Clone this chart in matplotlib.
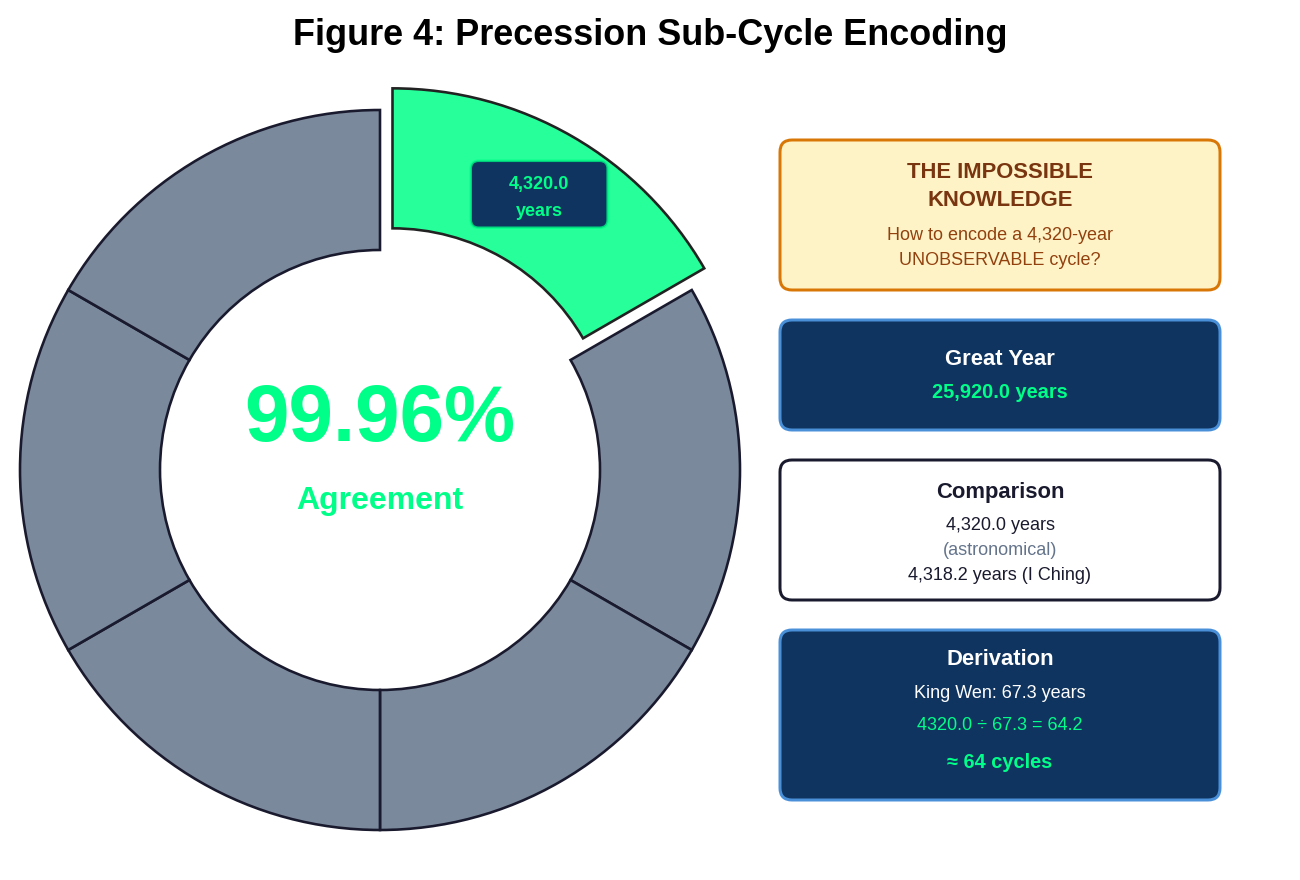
import matplotlib
matplotlib.use("Agg")
import numpy as np
import matplotlib.pyplot as plt
from matplotlib.patches import FancyBboxPatch
from matplotlib.colors import to_rgba

plt.rcParams['font.family'] = ['Liberation Sans', 'DejaVu Sans']

# ---------------- data ----------------
title = "Figure 4: Precession Sub-Cycle Encoding"
segment_years = [4320.0, 4320.0, 4320.0, 4320.0, 4320.0, 4320.0]
highlight_index = 0
great_year = 25920.0
sub_cycle = 4320.0
iching_cycle = 4318.2
king_wen = 67.3
ratio = 64.2
n_cycles = 64
agreement = 99.96

# ---------------- styling ----------------
W, H = 1300, 880
DPI = 144
GREEN = '#00FF88'
GRAY = '#64748b'
NAVY = '#0F3460'
DARK = '#1a1a2e'
BLUE_EDGE = '#4A90D9'

fig = plt.figure(figsize=(W / DPI, H / DPI), dpi=DPI)
ax = fig.add_axes([0, 0, 1, 1])


def Y(y):
    return H - y


# ---------------- donut ----------------
cx, cy, R, RW = 380, Y(470), 360, 140
n = len(segment_years)
face = [to_rgba(GREEN if i == highlight_index else GRAY, 0.85) for i in range(n)]
explode = [25 if i == highlight_index else 0 for i in range(n)]
wedges, _ = ax.pie(segment_years, colors=face, explode=explode, startangle=90,
                   counterclock=False, radius=R, center=(cx, cy),
                   wedgeprops=dict(width=RW, edgecolor=DARK, linewidth=1.3))
wedges[highlight_index].set_edgecolor('#222222')
wedges[highlight_index].set_zorder(3)

# label on highlighted wedge
w = wedges[highlight_index]
tm = np.deg2rad(0.5 * (w.theta1 + w.theta2))
wx, wy = w.center
lr = R * 0.815
lx, ly = wx + lr * np.cos(tm), wy + lr * np.sin(tm)
ax.add_patch(FancyBboxPatch((lx - 68.5, ly - 33.5), 137, 67,
                            boxstyle='round,pad=0,rounding_size=8',
                            facecolor=NAVY, edgecolor=to_rgba(GREEN, 0.75),
                            linewidth=1.3, zorder=4))
ax.text(lx, ly + 5, f"{sub_cycle:,.1f}", ha='center', va='baseline', fontsize=9,
        fontweight='bold', color=GREEN, zorder=5)
ax.text(lx, ly - 22, "years", ha='center', va='baseline', fontsize=9,
        fontweight='bold', color=GREEN, zorder=5)

# center text
ax.text(cx, Y(441), f"{agreement:.2f}%", ha='center', va='baseline', fontsize=40,
        fontweight='bold', color=GREEN)
ax.text(cx, Y(509), "Agreement", ha='center', va='baseline', fontsize=16,
        fontweight='bold', color=GREEN)

# ---------------- info boxes ----------------
def box(y0, y1, fc, ec):
    ax.add_patch(FancyBboxPatch((780, Y(y1)), 440, y1 - y0,
                                boxstyle='round,pad=0,rounding_size=12',
                                facecolor=fc, edgecolor=ec, linewidth=1.5, zorder=2))


def line(yb, s, size, color, bold=False):
    ax.text(1000, Y(yb), s, ha='center', va='baseline', fontsize=size,
            fontweight='bold' if bold else 'normal', color=color, zorder=3)


box(140, 290, '#FEF3C7', '#D97706')
line(178, "THE IMPOSSIBLE", 11, '#78350F', True)
line(205.5, "KNOWLEDGE", 11, '#78350F', True)
line(240, f"How to encode a {sub_cycle:,.0f}-year", 9, '#92400E')
line(265, "UNOBSERVABLE cycle?", 9, '#92400E')

box(320, 430, NAVY, BLUE_EDGE)
line(365, "Great Year", 11, 'white', True)
line(397.5, f"{great_year:,.1f} years", 10, GREEN, True)

box(460, 600, 'white', DARK)
line(498, "Comparison", 11, DARK, True)
line(530, f"{sub_cycle:,.1f} years", 9, DARK)
line(555, "(astronomical)", 9, GRAY)
line(580, f"{iching_cycle:,.1f} years (I Ching)", 9, DARK)

box(630, 800, NAVY, BLUE_EDGE)
line(665, "Derivation", 11, 'white', True)
line(698, f"King Wen: {king_wen:.1f} years", 9, 'white')
line(730, f"{sub_cycle:.1f} \u00f7 {king_wen:.1f} = {ratio:.1f}", 9, GREEN)
line(767.5, f"\u2248 {n_cycles} cycles", 10, GREEN, True)

# ---------------- title ----------------
ax.text(W / 2, Y(45), title, ha='center', va='baseline', fontsize=18,
        fontweight='bold', color='black')

ax.set_xlim(0, W)
ax.set_ylim(0, H)
ax.set_aspect('equal')
ax.axis('off')

fig.savefig("out.png", dpi=DPI, facecolor='white')
